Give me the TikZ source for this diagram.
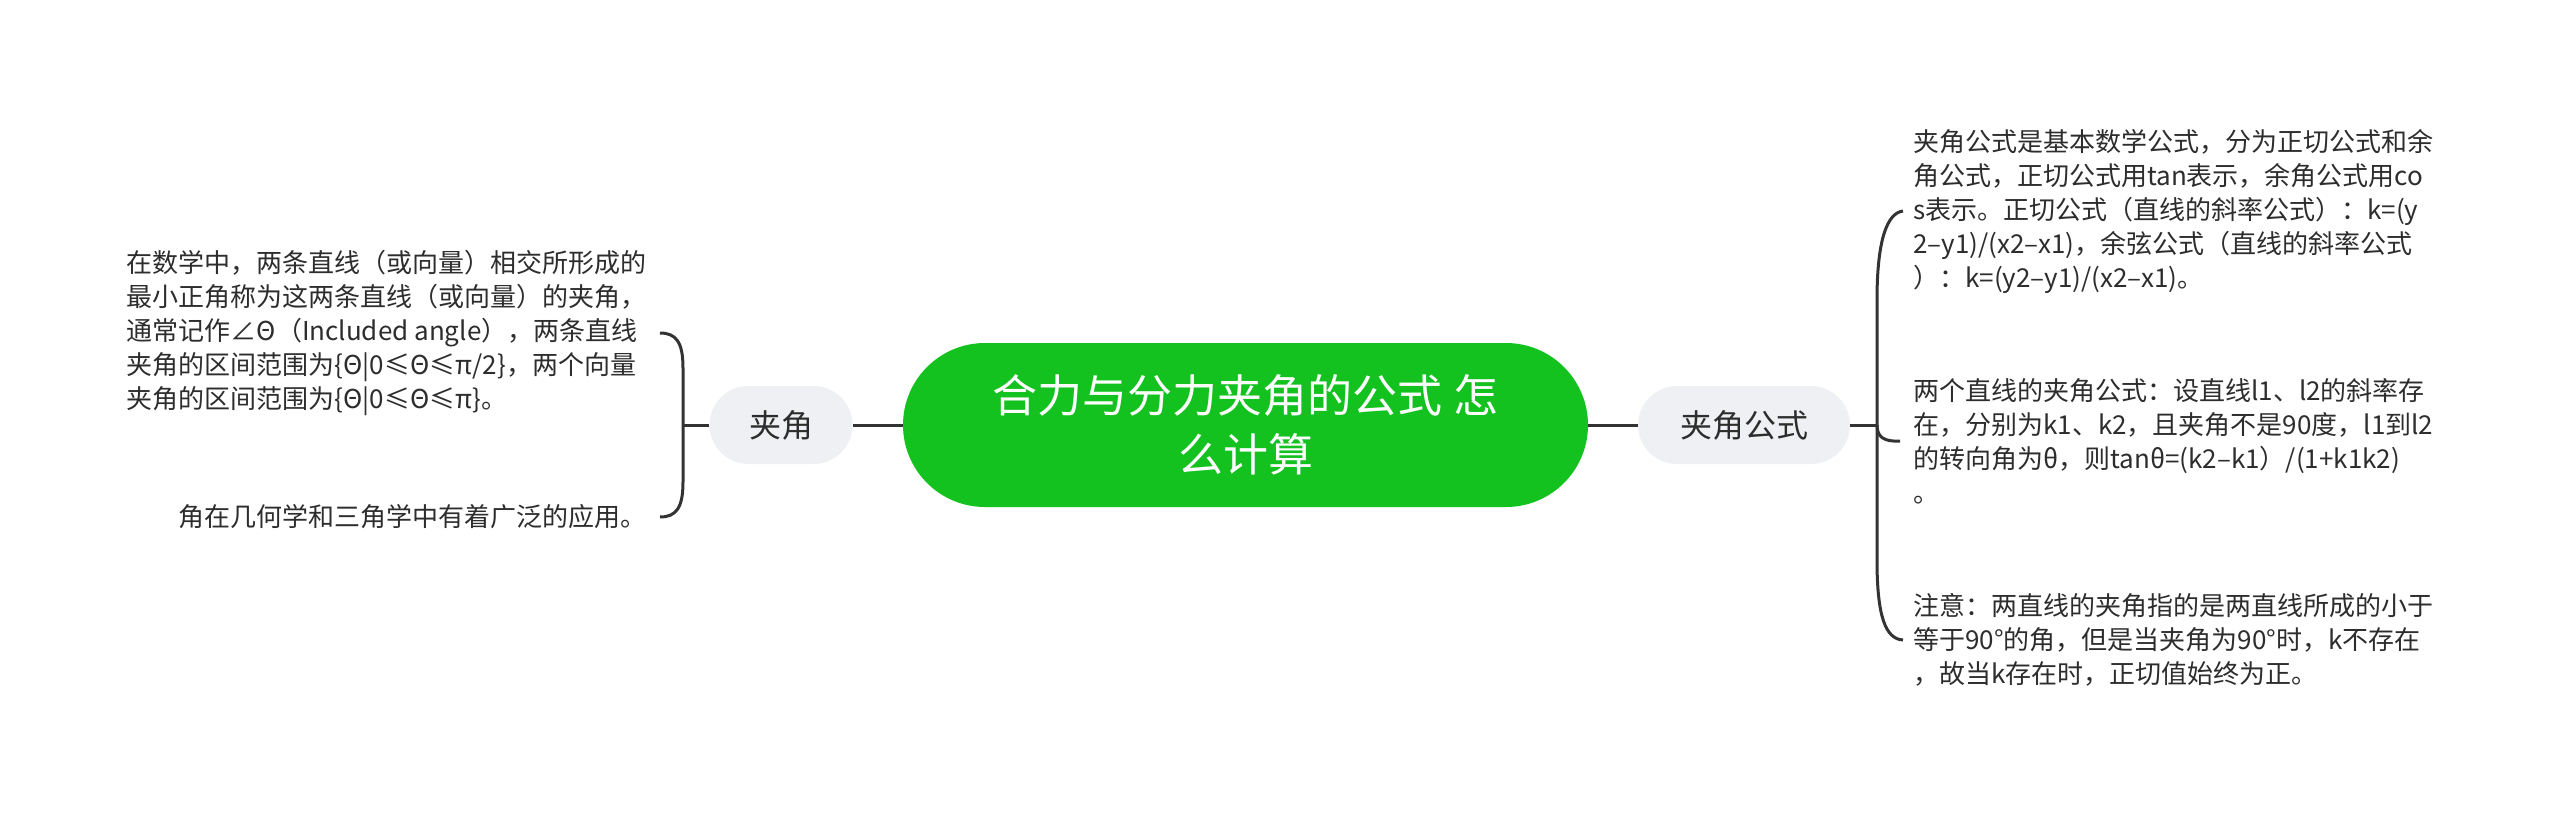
\documentclass[tikz,border=0pt]{standalone}
\usepackage{fontspec}
\setmainfont{Noto Sans CJK SC}
\definecolor{rootgreen}{RGB}{19,193,31}
\definecolor{topicgray}{RGB}{238,240,243}
\definecolor{linegray}{RGB}{51,51,51}
\definecolor{textgray}{RGB}{45,45,45}

\begin{document}
\begin{tikzpicture}[x=1pt,y=-1pt,
    topic/.style={fill=topicgray, text=textgray, minimum height=78pt, rounded corners=39pt, inner sep=0pt, font=\fontsize{32}{38}\selectfont},
    leaf/.style={text=textgray, align=left, inner sep=0pt, font=\fontsize{26}{34}\selectfont},
    link/.style={draw=linegray, line width=3pt}]
    \useasboundingbox[fill=white] (0,0) rectangle (2560,817);

    \node[fill=rootgreen, text=white, minimum width=685pt, minimum height=164pt, rounded corners=82pt, align=center, font=\fontsize{45}{59}\selectfont] (root) at (1245.5,425) {合力与分力夹角的公式 怎\\么计算};
    \node[topic, minimum width=143pt] (angle) at (781,425) {夹角};
    \node[topic, minimum width=212pt] (formula) at (1744,425) {夹角公式};

    \node[leaf, anchor=east] (define) at (647,333) {在数学中，两条直线（或向量）相交所形成的\\最小正角称为这两条直线（或向量）的夹角，\\通常记作∠Θ（Included angle），两条直线\\夹角的区间范围为\{Θ|0≤Θ≤π/2\}，两个向量\\夹角的区间范围为\{Θ|0≤Θ≤π\}。};
    \node[leaf, anchor=east] (usage) at (647,517) {角在几何学和三角学中有着广泛的应用。};

    \node[leaf, anchor=west] (tangent) at (1913,211) {夹角公式是基本数学公式，分为正切公式和余\\角公式，正切公式用tan表示，余角公式用co\\s表示。正切公式（直线的斜率公式）：k=(y\\2–y1)/(x2–x1)，余弦公式（直线的斜率公式\\）：k=(y2–y1)/(x2–x1)。};
    \node[leaf, anchor=west] (turn) at (1913,441) {两个直线的夹角公式：设直线l1、l2的斜率存\\在，分别为k1、k2，且夹角不是90度，l1到l2\\的转向角为θ，则tanθ=(k2–k1）/(1+k1k2)\\。};
    \node[leaf, anchor=west] (note) at (1913,640) {注意：两直线的夹角指的是两直线所成的小于\\等于90°的角，但是当夹角为90°时，k不存在\\，故当k存在时，正切值始终为正。};

    \coordinate (lmid) at (683,425);
    \coordinate (rmid) at (1877,425);

    \draw[link] (root.west) -- (angle.east);
    \draw[link] (root.east) -- (formula.west);
    \draw[link] (angle.west) -- (lmid);
    \draw[link] (formula.east) -- (rmid);

    \draw[link] ([xshift=13pt]define.east) .. controls (676,333) and (683,342) .. (683,368) -- (683,482) .. controls (683,508) and (676,517) .. ([xshift=13pt]usage.east);
    \draw[link] ([xshift=-10pt]tangent.west) .. controls (1887,213) and (1877,240) .. (1877,300) -- (1877,560) .. controls (1877,615) and (1885,639) .. ([xshift=-10pt]note.west);
    \draw[link] (rmid) .. controls (1877,437) and (1884,442) .. ([xshift=-13pt]turn.west);
\end{tikzpicture}
\end{document}
